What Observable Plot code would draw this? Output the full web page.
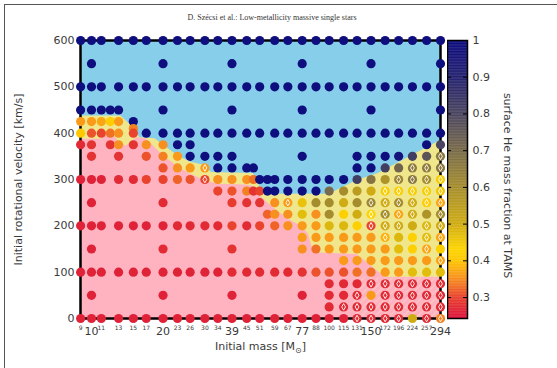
<!DOCTYPE html>
<html><head><meta charset="utf-8">
<script src="https://cdn.jsdelivr.net/npm/d3@7"></script>
<script src="https://cdn.jsdelivr.net/npm/@observablehq/plot@0.6"></script>
<style>
body{margin:0;background:#fff;width:557px;height:368px;overflow:hidden;position:relative;font-family:"DejaVu Sans",sans-serif;}
#frameline{position:absolute;left:4px;top:4px;right:-2px;bottom:-2px;border-top:1px solid #555;border-left:1px solid #555;}
#title{position:absolute;top:13px;left:0;width:544px;text-align:center;font-family:"Liberation Serif",serif;font-size:8px;color:#333;}
#main{position:absolute;left:0;top:26px;}
#cbar{position:absolute;left:447px;top:26px;}
</style></head><body>
<div id="frameline"></div>
<div id="title">D. Szécsi et al.: Low-metallicity massive single stars</div>
<div id="main"></div><div id="cbar"></div>
<script>
// ---- tick labels ----
const massTicksBig = [10, 20, 39, 77, 150, 294];
const massTicksSmall = [9, 11, 13, 15, 17, 23, 26, 30, 34, 45, 51, 59, 67, 88, 100, 115, 131, 172, 196, 224, 257];
const velocityTicks = [0, 100, 200, 300, 400, 500, 600];
const heTicks = [0.3, 0.4, 0.5, 0.6, 0.7, 0.8, 0.9, 1];

// ---- model grid: [initial mass, surface He at TAMS, diamond marker] per velocity row ----
const r600 = [[9,.99],[10,.99],[11,.99],[13,.99],[15,.99],[17,.99],[20,.99],[23,.99],[26,.99],[30,.99],[34,.99],[39,.99],[45,.99],[51,.99],[59,.99],[67,.99],[77,.99],[88,.99],[100,.99],[115,.99],[131,.99],[150,.99],[172,.99],[196,.99],[224,.99],[257,.99],[294,.99]];
const r550 = [[10,.99],[20,.99],[39,.99],[77,.99],[150,.99],[294,.99]];
const r500 = [[9,.99],[10,.99],[11,.99],[13,.99],[15,.99],[17,.99],[20,.99],[23,.99],[26,.99],[30,.99],[34,.99],[39,.99],[45,.99],[51,.99],[59,.99],[67,.99],[77,.99],[88,.99],[100,.99],[115,.99],[131,.99],[150,.99],[172,.99],[196,.99],[224,.99],[257,.99],[294,.99]];
const r450 = [[9,.99],[10,.99],[11,.99],[12,.99],[13,.99],[20,.99],[39,.99],[77,.99],[150,.99],[294,.99]];
const r425 = [[9,.36],[10,.36],[11,.37],[12,.41],[13,.36],[15,.99]];
const r410 = [[15,.34]];
const r400 = [[9,.40],[10,.31],[11,.30],[12,.33],[13,.35],[15,.30],[17,.99],[20,.99],[23,.99],[26,.99],[30,.99],[34,.99],[39,.99],[45,.99],[51,.99],[59,.99],[67,.99],[77,.99],[88,.99],[100,.99],[115,.99],[131,.99],[150,.99],[172,.99],[196,.99],[224,.99],[257,.99],[294,.99]];
const r375 = [[9,.27],[10,.28],[12,.28],[13,.35],[15,.28],[17,.35],[20,.35],[23,.99],[26,.99],[257,.99],[294,.80]];
const r350 = [[10,.28],[13,.28],[17,.31],[20,.34],[23,.36],[26,.99],[30,.99],[34,.99],[39,.99],[77,.99],[131,.99],[150,.99],[172,.99],[196,.97],[224,.82],[257,.76],[294,.66,1]];
const r325 = [[20,.31],[23,.35],[26,.36],[30,.36,1],[34,.99],[39,.99],[45,.99],[48,.99],[131,.99],[150,.99],[172,.82],[196,.72],[224,.65,1],[257,.65,1],[294,.66,1]];
const r300 = [[9,.26],[10,.26],[11,.26],[13,.27],[15,.27],[17,.30],[20,.30],[23,.32],[26,.31],[30,.30,1],[34,.35],[39,.35],[45,.35],[48,.33],[51,.99],[55,.99],[59,.99],[67,.99],[77,.99],[88,.99],[100,.99],[115,.99],[131,.82],[150,.67],[172,.58],[196,.62,1],[224,.66,1],[257,.60,1],[294,.44,1]];
const r275 = [[34,.30],[39,.31],[45,.34],[48,.28],[51,.30],[55,.99],[59,.99],[67,.99],[77,.99],[88,.99],[100,.70],[115,.60],[131,.55],[150,.50],[172,.44,1],[196,.44,1],[224,.44,1],[257,.44,1],[294,.45,1]];
const r250 = [[10,.26],[20,.27],[39,.29],[45,.28],[51,.28],[59,.35],[67,.36,1],[77,.46],[88,.60],[100,.60],[115,.50],[131,.60],[150,.62,1],[172,.50,1],[196,.60,1],[224,.50,1],[257,.41,1],[294,.37,1]];
const r225 = [[55,.32],[59,.35],[67,.35],[77,.47],[88,.35],[100,.60],[115,.42],[131,.50],[150,.43,1],[172,.60,1],[196,.37,1],[224,.50,1],[257,.58],[294,.60,1]];
const r200 = [[9,.26],[10,.26],[11,.26],[13,.26],[15,.26],[17,.26],[20,.26],[23,.27],[26,.27],[30,.27],[34,.27],[39,.30],[45,.27],[51,.30],[59,.32],[67,.35],[77,.36],[88,.36],[100,.48],[115,.48],[131,.42],[150,.30,1],[172,.50,1],[196,.50,1],[224,.50],[257,.48,1],[294,.50,1]];
const r175 = [[77,.36],[88,.36],[100,.36],[115,.36],[131,.36],[150,.36],[172,.38,1],[196,.48],[224,.42],[257,.47,1],[294,.37,1]];
const r150 = [[10,.26],[20,.27],[39,.28],[77,.35],[88,.33],[100,.36],[115,.36],[131,.36],[150,.36],[172,.36],[196,.47],[224,.42],[257,.37,1],[294,.42]];
const r125 = [[115,.36],[131,.36],[150,.36],[172,.36],[196,.36],[224,.36],[257,.36],[294,.37,1]];
const r100 = [[9,.26],[10,.26],[11,.26],[13,.26],[15,.26],[17,.26],[20,.26],[23,.26],[26,.26],[30,.26],[34,.26],[39,.27],[45,.27],[51,.27],[59,.27],[67,.27],[77,.28],[88,.31],[100,.31],[115,.31],[131,.33],[150,.33],[172,.36],[196,.36],[224,.47],[257,.47],[294,.47]];
const r75 = [[100,.27],[115,.27],[131,.27],[150,.27,1],[172,.27,1],[196,.27,1],[224,.27,1],[257,.27,1],[294,.27,1]];
const r50 = [[10,.26],[20,.26],[39,.26],[77,.26],[100,.27],[115,.27],[131,.27,1],[150,.36],[172,.27,1],[196,.27,1],[224,.27,1],[257,.27,1],[294,.27,1]];
const r25 = [[100,.27],[115,.27,1],[131,.27,1],[150,.27,1],[172,.27,1],[196,.27,1],[224,.27,1],[257,.27,1],[294,.27,1]];
const r0 = [[9,.26],[10,.26],[11,.26],[13,.26],[15,.26],[17,.26],[20,.26],[23,.26],[26,.26],[30,.26],[34,.26],[39,.26],[45,.26],[51,.26],[59,.26],[67,.26],[77,.26],[88,.26],[100,.26],[115,.26],[131,.27,1],[150,.27,1],[172,.27,1],[196,.27,1],[224,.50],[257,.27,1],[294,.34,1]];

const rowVelocities = [600,550,500,450,425,410,400,375,350,325,300,275,250,225,200,175,150,125,100,75,50,25,0];
const rowData = [r600,r550,r500,r450,r425,r410,r400,r375,r350,r325,r300,r275,r250,r225,r200,r175,r150,r125,r100,r75,r50,r25,r0];

// ---- region boundaries [mass, velocity] ----
const yellowTop = [[8.99,437],[13.3,437],[15,412],[16,390],[18.5,388],[23,352],[26,338],[30,330],[32,315],[48,313],[53,268],[100,268],[131,298],[161,313],[294,384]];
const pinkTop = [[8.99,387],[11,387],[11.7,398],[12.3,398],[13,382],[14,372],[15.5,390],[17,388],[20,352],[23,328],[26,312],[30,298],[34,290],[45,288],[48,285],[51,265],[59,237],[67,215],[77,198],[82,182],[86,142],[131,138],[172,89],[294,89]];
const hatchTop = [[127,88],[294,88]];

// ---- colour map ----
const heStops = [0.243, 0.30, 0.35, 0.40, 0.43, 0.50, 0.60, 0.70, 0.80, 0.90, 1.0];
const heColors = ["#dc143c","#e9432e","#f7901e","#ffc800","#fdd400","#cfab14","#a58d2e","#786a4a","#4a4560","#242270","#0c0c80"];

const points = rowData.flatMap((row, i) => row.map(p => ({m: p[0], v: rowVelocities[i], he: p[1], d: p[2] === 1})));

const colorOpts = {type: "linear", domain: heStops, range: heColors, interpolate: "rgb"};

const main = Plot.plot({
  width: 557, height: 342,
  marginLeft: 80, marginRight: 117, marginTop: 14, marginBottom: 50,
  style: {fontFamily: "DejaVu Sans", color: "#3a3a3a", background: "transparent"},
  x: {type: "log", domain: [8.99, 294], label: null},
  y: {domain: [0, 600], label: null},
  color: colorOpts,
  marks: [
    Plot.frame({fill: "#87ceeb"}),
    Plot.areaY(yellowTop, {x: d => d[0], y: d => d[1], fill: "#f0e68c"}),
    Plot.areaY(pinkTop, {x: d => d[0], y: d => d[1], fill: "#ffb3c0"}),
    Plot.areaY(hatchTop, {x: d => d[0], y: d => d[1], fill: "#fe0001"}),
    Plot.frame({stroke: "black", strokeWidth: 2.5}),
    Plot.axisY({ticks: velocityTicks, tickSize: 0, tickPadding: 6, fontSize: 11, label: null}),
    Plot.text(massTicksSmall, {x: d => d, text: d => String(d), frameAnchor: "bottom", dy: 9.5, fontSize: 6, textAnchor: "middle", lineAnchor: "middle"}),
    Plot.axisX({ticks: massTicksBig, tickSize: 0, tickPadding: 9, fontSize: 11, tickFormat: d => String(d), label: null}),
    Plot.dot(points, {x: "m", y: "v", fill: "he", r: 4.6}),
    Plot.dot(points.filter(d => d.d), {x: "m", y: "v", symbol: "diamond", r: 2.0, stroke: "white", strokeWidth: 0.9, fill: "none"}),
    Plot.text(["Initial rotational velocity [km/s]"], {text: d => d, frameAnchor: "left", rotate: -90, dx: -62, fontSize: 11, textAnchor: "middle", lineAnchor: "middle"}),
    Plot.text(["Initial mass [M⊙]"], {text: d => d, frameAnchor: "bottom", dy: 28, fontSize: 11, textAnchor: "middle", lineAnchor: "middle"})
  ]
});
document.getElementById("main").appendChild(main);

// hatch pattern for the lower-right region
const svgSel = d3.select(main);
const defs = svgSel.insert("defs", ":first-child");
const pat = defs.append("pattern").attr("id", "hatch").attr("patternUnits", "userSpaceOnUse")
  .attr("width", 5).attr("height", 5).attr("patternTransform", "rotate(45)");
pat.append("rect").attr("width", 5).attr("height", 5).attr("fill", "#ffb3c0");
pat.append("line").attr("x1", 0).attr("y1", 0).attr("x2", 0).attr("y2", 5).attr("stroke", "#ffd2c4").attr("stroke-width", 1.4);
main.querySelectorAll('[fill="#fe0001"]').forEach(el => el.setAttribute("fill", "url(#hatch)"));

// subscript sun symbol
main.querySelectorAll("text").forEach(t => {
  if (t.textContent === "Initial mass [M⊙]") {
    t.textContent = "";
    const s = d3.select(t);
    s.append("tspan").text("Initial mass [M");
    s.append("tspan").attr("dy", 3).attr("font-size", 8).text("⊙");
    s.append("tspan").attr("dy", -3).text("]");
  }
});

// ---- colour bar ----
const cbSlices = d3.range(0.243, 1.0, 0.002);
const cbar = Plot.plot({
  width: 110, height: 342,
  marginLeft: 0, marginRight: 90, marginTop: 14, marginBottom: 50,
  style: {fontFamily: "DejaVu Sans", color: "#3a3a3a", background: "transparent"},
  x: {domain: [0, 1], axis: null},
  y: {domain: [0.243, 1], axis: null},
  color: colorOpts,
  marks: [
    Plot.rect(cbSlices, {x1: 0, x2: 1, y1: d => d, y2: d => Math.min(1, d + 0.003), fill: d => d}),
    Plot.ruleY(heTicks, {x1: 0, x2: 0.2, stroke: "black", strokeWidth: 1}),
    Plot.ruleY(heTicks, {x1: 0.8, x2: 1, stroke: "black", strokeWidth: 1}),
    Plot.frame({stroke: "black", strokeWidth: 1.5}),
    Plot.axisY({anchor: "right", ticks: heTicks, tickSize: 0, tickPadding: 5, fontSize: 11, tickFormat: d => d === 1 ? "1" : d.toFixed(1), label: null}),
    Plot.text(["surface He mass fraction at TAMS"], {text: d => d, frameAnchor: "right", rotate: 90, dx: 40, dy: 6, fontSize: 11, textAnchor: "middle", lineAnchor: "middle"})
  ]
});
document.getElementById("cbar").appendChild(cbar);
</script>
</body></html>
